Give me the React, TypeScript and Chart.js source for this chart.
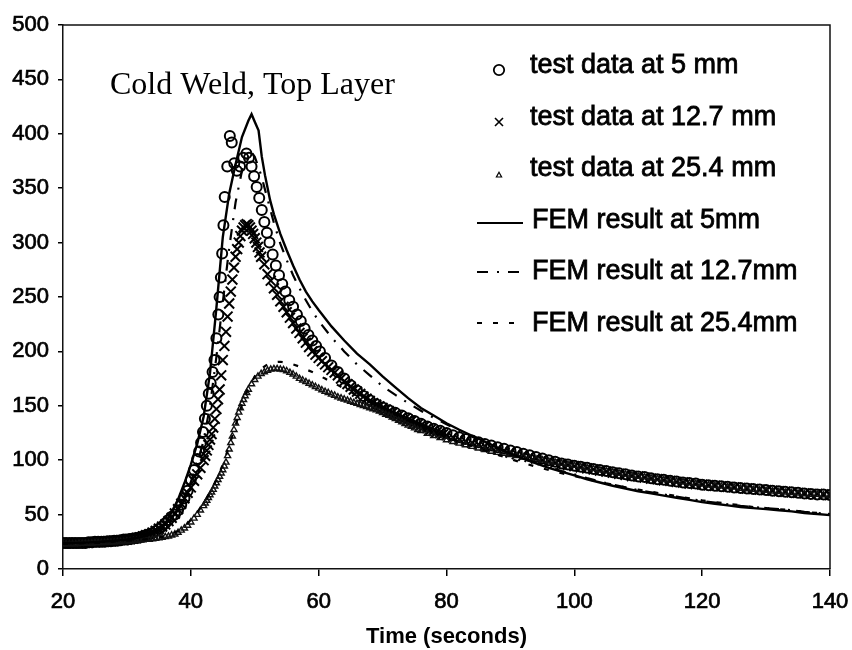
import React, { useEffect, useRef } from "react";
import { Chart, registerables } from "chart.js";

Chart.register(...registerables);

// ---------- data (time s, value) ----------
const TEST_5MM: [number, number][] = [
  [20,24],[20.5,24],[21,24],[21.5,24],[22,24],[22.5,24],[23,24],[23.5,24],[24,24.5],[24.5,24.5],
  [25,25],[25.5,25],[26,25],[26.5,25],[27,25.5],[27.5,25.5],[28,26],[28.5,26],[29,26.5],[29.5,27],
  [30,27],[30.5,27.5],[31,28],[31.5,28.5],[32,29],[32.5,30],[33,31],[33.5,32],[34,33],[34.5,35],
  [35,37],[35.5,39],[36,42],[36.5,45],[37,48],[37.5,50],[38,54],[38.5,59],[39,65],[39.5,72],
  [40,82],[40.5,91],[41,101],[41.3,108],[41.6,116],[41.9,126],[42.2,138],[42.5,150],[42.8,161],[43.1,171],
  [43.4,181],[43.7,192],[44,212],[44.3,234],[44.5,250],[44.7,268],[44.9,290],[45.1,316],[45.3,342],[45.7,370],
  [46.1,398],[46.4,392],[46.8,373],[47.2,366],[47.7,370],[48.2,378],[48.7,382],[49.1,378],[49.5,370],[49.9,361],
  [50.3,351],[50.7,341],[51.1,330],[51.5,319],[51.9,309],[52.3,300],[52.8,289],[53.3,279],[53.8,270],[54.3,262],
  [54.8,255],[55.4,247],[56,241],[56.6,234],[57.2,228],[57.8,221],[58.4,215],[59,210],[59.6,205],[60.2,200],
  [61,194],[62,187],[63,181],[64,175],[65,169],[66,164],[67,159],[68,155],[69,151.5],[70,148.5],
  [71,146],[72,143.5],[73,141],[74,138.5],[75,136],[76,133.5],[77,131],[78,129],[79,127],[80,125],
  [81,123],[82,121],[83,119.5],[84,118],[85,116.5],[86,115],[87,113.5],[88,112],[89,110.5],[90,109],
  [91,107.5],[92,106],[93,104.5],[94,103],[95,101.5],[96,100],[97,98.5],[98,97],[99,96],[100,95],
  [101,94],[102,93],[103,92],[104,91],[105,90],[106,89],[107,88],[108,87],[109,86],[110,85],
  [111,84.5],[112,83.5],[113,82.5],[114,82],[115,81],[116,80.5],[117,79.5],[118,79],[119,78.5],[120,77.5],
  [121,77],[122,76.5],[123,76],[124,75.5],[125,75],[126,74.5],[127,74],[128,73.5],[129,73],[130,72.5],
  [131,72],[132,71.5],[133,71],[134,70.5],[135,70],[136,69.5],[137,69],[138,68.5],[139,68.5],[140,68],
];

const TEST_12MM: [number, number][] = [
  [20,23.5],[20.5,23.5],[21,23.5],[21.5,23.5],[22,24],[22.5,24],[23,24],[23.5,24],[24,24],[24.5,24.5],
  [25,24.5],[25.5,25],[26,25],[26.5,25],[27,25.5],[27.5,25.5],[28,26],[28.5,26],[29,26.5],[29.5,26.5],
  [30,27],[30.5,27.5],[31,28],[31.5,28.5],[32,29],[32.5,30],[33,31],[33.5,32],[34,33.5],[34.5,35],
  [35,37],[35.5,39],[36,41],[36.5,44],[37,47],[37.5,51],[38,55],[38.5,60],[39,65],[39.5,70],
  [40,75],[40.5,81],[41,87],[41.5,93],[42,100],[42.25,104],[42.5,109],[42.75,114],[43,119],[43.25,124],
  [43.5,130],[43.75,138],[44,147],[44.25,156],[44.5,165],[44.75,178],[45,192],[45.25,205],[45.5,218],[45.75,232],
  [46,244],[46.25,255],[46.5,266],[46.75,277],[47,287],[47.25,294],[47.5,300],[47.75,306],[48,311],[48.25,314],
  [48.5,316],[48.75,317],[49,316],[49.25,314],[49.5,311],[49.75,308],[50,304],[50.25,300],[50.5,296],[50.75,291],
  [51,287],[51.5,280],[52,271],[52.5,265],[53,258],[53.5,252],[54,246],[54.5,241],[55,236],[55.5,231],
  [56,226],[56.5,221],[57,217],[57.5,212],[58,208],[58.5,204],[59,200],[59.5,197],[60,194],[60.5,191],
  [61,188],[61.5,185.5],[62,183],[62.5,180.5],[63,178],[63.5,175],[64,172.5],[64.5,170],[65,167.5],[65.5,165],
  [66,163],[66.5,161],[67,158.5],[67.5,156.5],[68,154.5],[68.5,152.5],[69,151],[69.5,149.5],[70,148],[70.5,146.5],
  [71,145],[71.5,143.5],[72,142],[72.5,141],[73,139.5],[73.5,138],[74,137],[74.5,136],[75,134.5],[75.5,133],
  [76,132],[76.5,131],[77,129.5],[77.5,128],[78,127],[78.5,126],[79,125],[79.5,124],[80,123],[81,121],
  [82,119],[83,117.5],[84,116],[85,114.5],[86,113],[87,111.5],[88,110],[89,108.5],[90,107],[91,105.5],
  [92,104],[93,103],[94,101.5],[95,100],[96,99],[97,97.5],[98,96.5],[99,95.5],[100,94.5],[101,93.5],
  [102,92.5],[103,91.5],[104,90.5],[105,89.5],[106,88.5],[107,87.5],[108,86.5],[109,85.5],[110,85],[111,84],
  [112,83],[113,82.5],[114,81.5],[115,81],[116,80],[117,79.5],[118,78.5],[119,78],[120,77.5],[121,77],
  [122,76.5],[123,76],[124,75.5],[125,75],[126,74.5],[127,74],[128,73.5],[129,73],[130,72.5],[131,72],
  [132,71.5],[133,71],[134,70.5],[135,70],[136,69.5],[137,69],[138,69],[139,68.5],[140,68],
];

const TEST_25MM: [number, number][] = [
  [20,23],[20.5,23],[21,23],[21.5,23],[22,23],[22.5,23.5],[23,23.5],[23.5,23.5],[24,23.5],[24.5,23.5],
  [25,24],[25.5,24],[26,24],[26.5,24],[27,24.5],[27.5,24.5],[28,24.5],[28.5,25],[29,25],[29.5,25],
  [30,25.5],[30.5,25.5],[31,26],[31.5,26],[32,26.5],[32.5,26.5],[33,27],[33.5,27],[34,27.5],[34.5,28],
  [35,28.5],[35.5,29],[36,29.5],[36.5,30],[37,31],[37.5,32],[38,33.5],[38.5,35.5],[39,37.5],[39.5,40],
  [40,43],[40.5,46.5],[41,50],[41.5,54],[42,58],[42.25,60.5],[42.5,63],[42.75,65.5],[43,68],[43.25,70.5],
  [43.5,73],[43.75,76],[44,79],[44.25,82],[44.5,85],[44.75,88],[45,91],[45.25,94.5],[45.5,98],[45.75,104],
  [46,110],[46.25,116],[46.5,122],[46.75,128],[47,134],[47.25,139],[47.5,144],[47.75,148],[48,152],[48.25,155.5],
  [48.5,159],[48.75,162],[49,165],[49.5,170],
  [50,174],[50.5,177],[51,179.5],[51.5,181],[52,182.5],[52.5,183.5],[53,184],[53.5,184],[54,183.5],[54.5,183],
  [55,182],[55.5,180.5],[56,179],[56.5,177],[57,175],[57.5,173.5],[58,172],[58.5,170.5],[59,169],[59.5,167.5],
  [60,166],[60.5,164.5],[61,163],[61.5,162],[62,160.5],[62.5,159.5],[63,158],[63.5,157],[64,156],[64.5,155],
  [65,154],[65.5,153],[66,152],[66.5,151],[67,150],[67.5,149],[68,148],[68.5,147],[69,146],[69.5,145],
  [70,143.5],[70.5,142],[71,141],[71.5,139.5],[72,138],[72.5,136.5],[73,135],[73.5,133.5],[74,132],[74.5,131],
  [75,129.5],[75.5,128],[76,127],[77,124.5],[78,122.5],[79,120.5],[80,118.5],[81,117],[82,115.5],[83,114],
  [84,112.5],[85,111],[86,109.5],[87,108],[88,107],[89,106],[90,105],[91,104],[92,103],[93,102],
  [94,101],[95,100],[96,99],[97,98],[98,97],[99,96],[100,95],[101,94],[102,93],[103,92],
  [104,91],[105,90],[106,89],[107,88],[108,87],[109,86],[110,85],[111,84.5],[112,83.5],[113,83],
  [114,82],[115,81.5],[116,80.5],[117,80],[118,79],[119,78.5],[120,78],[121,77],[122,76.5],[123,76],
  [124,75.5],[125,75],[126,74],[127,73.5],[128,73],[129,72.5],[130,72],[131,71.5],[132,71],[133,70.5],
  [134,70],[135,69.5],[136,69],[137,68.5],[138,68.5],[139,68],[140,67.5],
];

const FEM_5MM: [number, number][] = [
  [20,24],[22,24],[24,24.5],[26,25],[28,26],[30,27],[31,28],[32,29],[33,30.5],[34,33],
  [35,36],[36,42],[37,52],[38,64],[39,79],[40,96],[41,115],[42,140],[43,180],[44,240],
  [45,305],[46,345],[47,372],[48,397],[49,412],[49.5,418],[50,411],[50.6,403],[51.1,379],[51.6,362],
  [52.4,339],[53,326],[54,308],[55,293],[56,279],[57,266],[58,255],[59,246],[60,238],[62,223],
  [64,210],[66,198],[68,188],[70,177],[72,167],[74,157],[76,148],[78,141],[80,134],[82,128],
  [84,122.5],[86,117],[88,111.5],[90,106],[92,101.5],[94,97],[96,93],[98,89.5],[100,86],[102,82.5],
  [104,79.5],[106,76.5],[108,74],[110,71.5],[112,69.5],[114,67.5],[116,65.5],[118,63.5],[120,61.5],[122,60],
  [124,58.5],[126,57],[128,56],[130,55],[132,54],[134,53],[136,51.5],[138,50.5],[140,49.5],
];

const FEM_12MM: [number, number][] = [
  [20,23.5],[25,24.5],[30,27],[32,29],[34,32],[35,34],[36,39],[37,45],[38,54],[39,66],
  [40,80],[41,97],[42,118],[43,150],[44,195],[45,245],[46,295],[47,337],[48,366],[48.5,376],
  [49,381],[49.5,383],[50,379],[51,362],[52,340],[53,318],[54,299],[55,284],[56,270],[57,258],
  [58,247],[59,237],[60,228],[62,213],[64,200],[66,188],[68,178],[70,168],[72,160],[74,152.5],
  [76,145.5],[78,139],[80,133],[82,127],[84,121.5],[86,116],[88,111],[90,106],[92,101.5],[94,97.5],
  [96,93.5],[98,90],[100,87],[102,83.5],[104,80.5],[106,77.5],[108,75],[110,72.5],[112,70.5],[114,68.5],
  [116,66.5],[118,64.5],[120,62.5],[122,61],[124,59.5],[126,58],[128,57],[130,56],[132,55],[134,54],
  [136,52.5],[138,51.5],[140,50.5],
];

const FEM_25MM: [number, number][] = [
  [20,23],[25,24],[30,26],[33,27.5],[35,29],[36,30],[37,32],[38,35],[39,39],[40,45],
  [41,52],[42,60],[43,70],[44,82],[45,96],[46,113],[47,132],[48,151],[49,166],[50,177],
  [51,184],[52,188],[53,190],[54,190.5],[55,189.5],[56,188],[57,186],[58,183.5],[59,181],[60,178],
  [61,175],[62,172],[63,169],[64,166],[66,160],[68,154],[70,148],[72,142],[74,136.5],[76,131],
  [78,126],[80,121.5],[82,117],[84,113],[86,109],[88,105],[90,101],[92,97.5],[94,94],[96,91],
  [98,88],[100,85.5],[102,82.5],[104,80],[106,77.5],[108,75],[110,73],[112,71],[114,69],[116,67],
  [118,65],[120,63],[122,61.5],[124,60],[126,58.5],[128,57],[130,56],[132,55],[134,54],[136,52.5],
  [138,51.5],[140,50.5],
];

const SERIES_LABELS = [
  "test data at 5 mm",
  "test data at 12.7 mm",
  "test data at 25.4 mm",
  "FEM result at 5mm",
  "FEM result at 12.7mm",
  "FEM result at 25.4mm",
];
const CHART_TITLE = "Cold Weld, Top Layer";
const X_TITLE = "Time (seconds)";
const X_MIN = 20, X_MAX = 140, X_STEP = 20;
const Y_MIN = 0, Y_MAX = 500, Y_STEP = 50;

const toPoints = (arr: [number, number][]) => arr.map(([x, y]) => ({ x, y }));

const SANS = '"Liberation Sans", Arial, sans-serif';
const INK = "#000";

const DASH_12 = [11, 9, 2, 9];
const DASH_25 = [5, 11];

const overlayPlugin = {
  id: "overlay",
  afterDraw(chart: any) {
    const { ctx, chartArea: a } = chart;
    ctx.save();
    // frame top & right
    ctx.strokeStyle = "#111";
    ctx.lineWidth = 1.5;
    ctx.setLineDash([]);
    ctx.beginPath();
    ctx.moveTo(a.left, a.top);
    ctx.lineTo(a.right, a.top);
    ctx.lineTo(a.right, a.bottom);
    ctx.stroke();

    // in-plot title
    ctx.fillStyle = INK;
    ctx.textAlign = "left";
    ctx.textBaseline = "alphabetic";
    ctx.font = '32px "Liberation Serif", "Times New Roman", serif';
    ctx.fillText(CHART_TITLE, a.left + 47, a.top + 69);

    // legend
    ctx.font = "27px " + SANS;
    const labels = chart.data.datasets.map((d: any) => d.label);
    const mx = a.right - 331;
    labels.forEach((lab: string, i: number) => {
      const base = a.top + 48 + i * 51.5;
      const tx = i < 3 ? a.right - 300 : a.right - 298;
      ctx.setLineDash([]);
      ctx.fillStyle = INK;
      ctx.strokeStyle = INK;
      ctx.lineWidth = 0.8;
      ctx.fillText(lab, tx, base);
      ctx.strokeText(lab, tx, base);
      if (i === 0) {
        ctx.lineWidth = 1.8;
        ctx.beginPath();
        ctx.arc(mx, a.top + 45, 5.2, 0, Math.PI * 2);
        ctx.stroke();
      } else if (i === 1) {
        ctx.lineWidth = 1.6;
        const cy = a.top + 97;
        ctx.beginPath();
        ctx.moveTo(mx - 4, cy - 4); ctx.lineTo(mx + 4, cy + 4);
        ctx.moveTo(mx + 4, cy - 4); ctx.lineTo(mx - 4, cy + 4);
        ctx.stroke();
      } else if (i === 2) {
        ctx.lineWidth = 1.2;
        const cy = a.top + 150;
        ctx.beginPath();
        ctx.moveTo(mx, cy - 2.8); ctx.lineTo(mx + 2.6, cy + 2); ctx.lineTo(mx - 2.6, cy + 2);
        ctx.closePath();
        ctx.stroke();
      } else {
        const ly = [a.top + 198, a.top + 247, a.top + 298][i - 3];
        ctx.lineWidth = 2.2;
        ctx.setLineDash(i === 3 ? [] : i === 4 ? DASH_12 : DASH_25);
        ctx.beginPath();
        ctx.moveTo(a.right - 353, ly);
        ctx.lineTo(a.right - 307, ly);
        ctx.stroke();
      }
    });
    ctx.restore();
  },
};

export default function App() {
  const ref = useRef<HTMLCanvasElement | null>(null);

  useEffect(() => {
    if (!ref.current) return;
    const tickFont = { family: SANS, size: 22 };
    const chart = new Chart(ref.current, {
      type: "scatter",
      data: {
        datasets: [
          {
            label: SERIES_LABELS[0],
            data: toPoints(TEST_5MM),
            showLine: false,
            pointStyle: "circle",
            pointRadius: 5,
            pointBorderWidth: 2,
            pointBorderColor: INK,
            pointBackgroundColor: "rgba(255,255,255,0)",
            order: 6,
          },
          {
            label: SERIES_LABELS[1],
            data: toPoints(TEST_12MM),
            showLine: false,
            pointStyle: "crossRot",
            pointRadius: 7,
            pointBorderWidth: 2,
            pointBorderColor: INK,
            pointBackgroundColor: INK,
            order: 5,
          },
          {
            label: SERIES_LABELS[2],
            data: toPoints(TEST_25MM),
            showLine: false,
            pointStyle: "triangle",
            pointRadius: 3.5,
            pointBorderWidth: 1.4,
            pointBorderColor: "#111",
            pointBackgroundColor: "rgba(255,255,255,0)",
            order: 4,
          },
          {
            label: SERIES_LABELS[3],
            data: toPoints(FEM_5MM),
            showLine: true,
            pointRadius: 0,
            borderColor: INK,
            borderWidth: 2.4,
            tension: 0,
            order: 1,
          },
          {
            label: SERIES_LABELS[4],
            data: toPoints(FEM_12MM),
            showLine: true,
            pointRadius: 0,
            borderColor: INK,
            borderWidth: 2.2,
            borderDash: DASH_12,
            tension: 0,
            order: 2,
          },
          {
            label: SERIES_LABELS[5],
            data: toPoints(FEM_25MM),
            showLine: true,
            pointRadius: 0,
            borderColor: INK,
            borderWidth: 2.2,
            borderDash: DASH_25,
            tension: 0,
            order: 3,
          },
        ],
      },
      options: {
        responsive: false,
        animation: false,
        devicePixelRatio: 1,
        layout: { padding: { top: 25, right: 22, left: 0, bottom: 0 } },
        plugins: {
          legend: { display: false },
          tooltip: { enabled: false },
          title: { display: false },
        },
        events: [],
        scales: {
          x: {
            type: "linear",
            min: X_MIN,
            max: X_MAX,
            ticks: {
              stepSize: X_STEP, font: tickFont, color: INK, padding: 13, maxRotation: 0,
              textStrokeColor: INK, textStrokeWidth: 0.7,
            },
            grid: { drawOnChartArea: false, drawTicks: true, tickLength: 7, color: INK, lineWidth: 1.5 },
            border: { display: true, color: "#111", width: 1.5 },
            title: {
              display: true,
              text: X_TITLE,
              color: INK,
              font: { family: SANS, size: 22, weight: "bold" },
              padding: { top: 0, bottom: 0 },
            },
            afterFit(scale: any) {
              scale.height = 81;
              scale.paddingLeft = 0;
              scale.paddingRight = 0;
            },
          },
          y: {
            type: "linear",
            min: Y_MIN,
            max: Y_MAX,
            ticks: {
              stepSize: Y_STEP, font: tickFont, color: INK, padding: 9,
              textStrokeColor: INK, textStrokeWidth: 0.7,
            },
            grid: { drawOnChartArea: false, drawTicks: true, tickLength: 5, color: INK, lineWidth: 1.5 },
            border: { display: true, color: "#111", width: 1.5 },
            afterFit(scale: any) {
              scale.width = 63;
              scale.paddingTop = 0;
              scale.paddingBottom = 0;
            },
          },
        },
      } as any,
      plugins: [overlayPlugin],
    });
    return () => chart.destroy();
  }, []);

  return (
    <div style={{ position: "absolute", left: 0, top: 0, width: 852, height: 650, background: "#fff" }}>
      <canvas ref={ref} width={852} height={650} style={{ display: "block" }} />
    </div>
  );
}
